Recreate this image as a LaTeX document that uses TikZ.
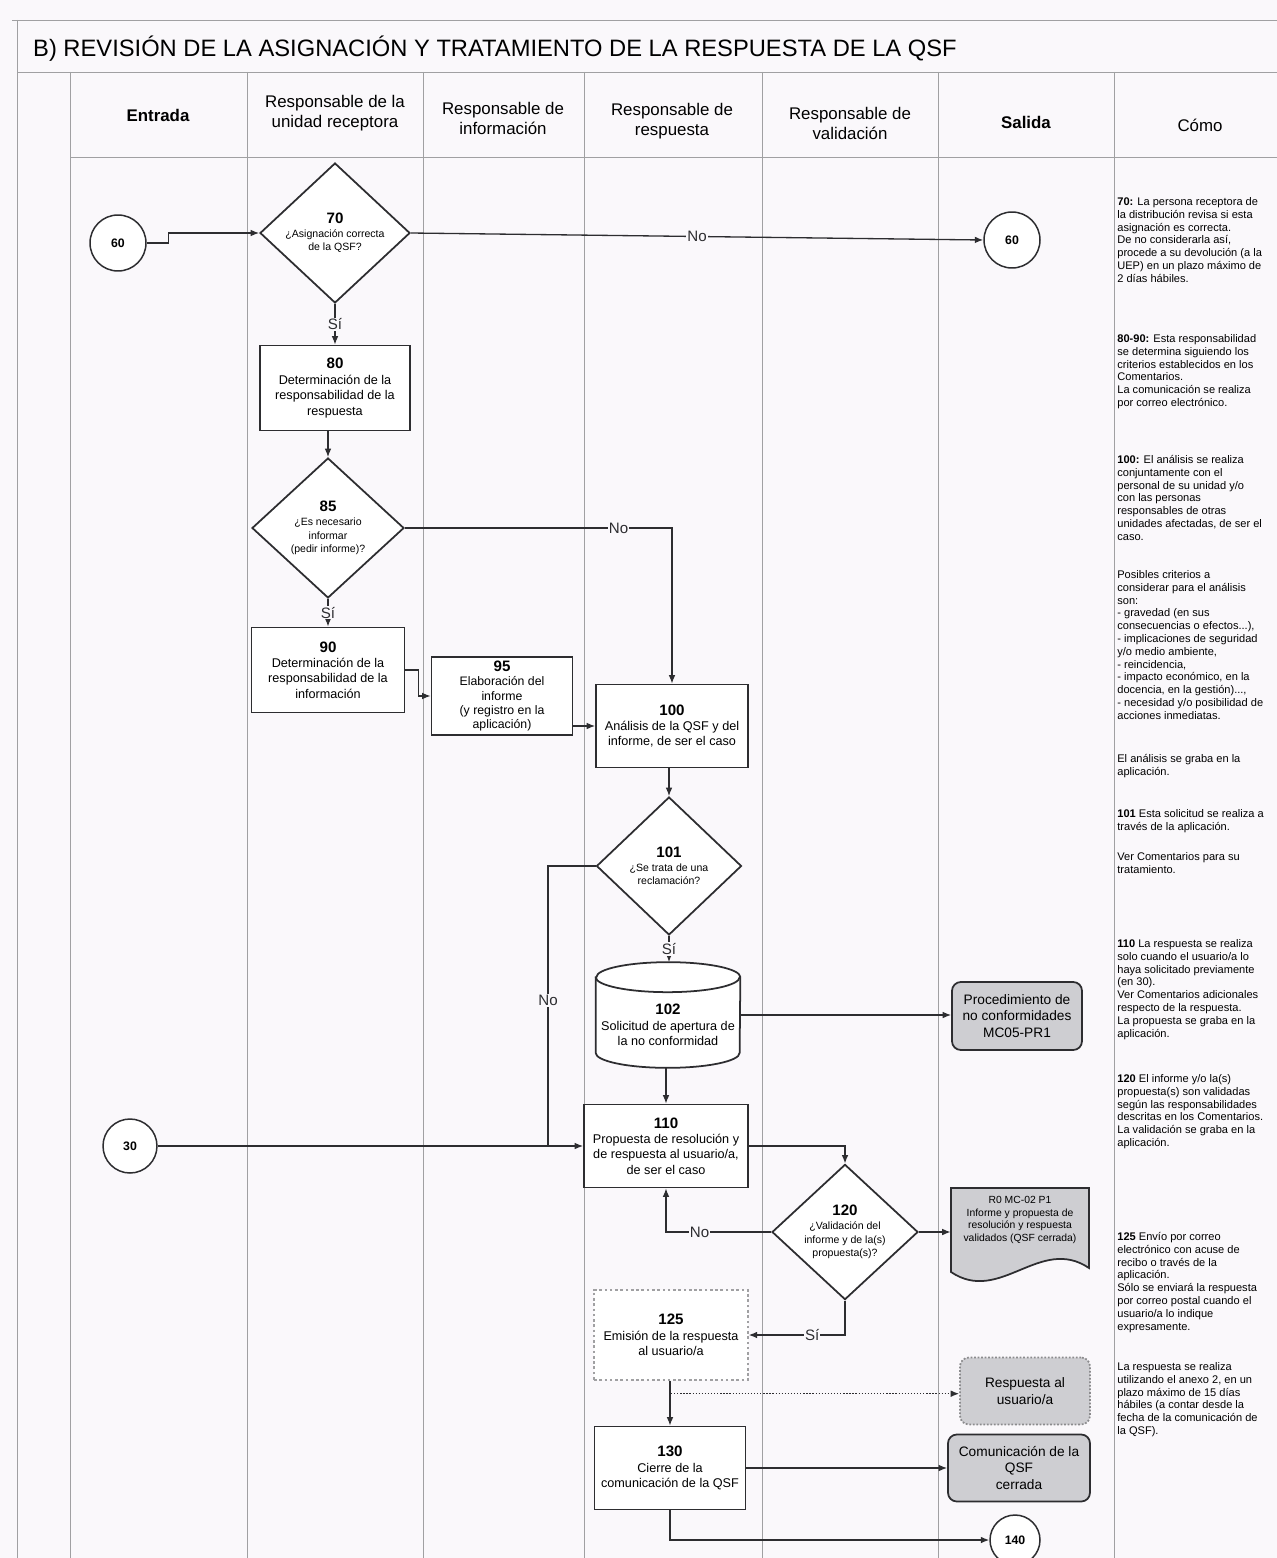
\documentclass[tikz,border=0pt]{standalone}
\usepackage{fontspec}
\setmainfont{Liberation Sans}
\usepackage{tikz}
\usetikzlibrary{calc}
\usetikzlibrary{shapes}
\usetikzlibrary{arrows.meta}

\definecolor{paper}{RGB}{250,248,251}
\definecolor{lanegray}{RGB}{160,160,162}
\definecolor{ink}{RGB}{45,45,48}
\definecolor{outgray}{RGB}{206,206,210}

\newcommand{\stepno}[1]{{\fontsize{8.6}{10}\selectfont\bfseries #1}}

\begin{document}
\begin{tikzpicture}[x=0.02cm, y=-0.02cm,
		>={Latex[length=4.8pt,width=3.8pt]},
		lanes/.style={lanegray, line width=0.55pt},
		link/.style={ink, line width=0.75pt},
		head/.style={align=center, font=\fontsize{9.6}{11.4}\selectfont},
		proc/.style={draw=ink, line width=1pt, fill=white, align=center, inner sep=1pt, font=\fontsize{7.2}{8.8}\selectfont},
		decis/.style={draw=ink, line width=1pt, fill=white, diamond, align=center, inner sep=0pt, font=\fontsize{6}{7.8}\selectfont},
		conn/.style={draw=ink, line width=0.85pt, fill=white, circle, inner sep=0pt, font=\fontsize{7}{8}\selectfont\bfseries},
		outbox/.style={draw=ink, line width=1pt, fill=outgray, rounded corners=5pt, align=center, inner sep=1pt, font=\fontsize{7.8}{9.4}\selectfont},
		yesno/.style={fill=paper, inner sep=0.6pt, font=\fontsize{8.6}{9}\selectfont},
		como/.style={anchor=north west, align=left, inner sep=0pt, font=\fontsize{6.3}{7.3}\selectfont}]
		\fill[paper] (0,0) rectangle (1277,1558);
		\useasboundingbox (0,0) rectangle (1277,1558);
%		\draw[very thin,densely dashed] (0,0) grid[step=100] (1277,1558);
		\draw[lanes] (12,20) -- (1277,20);
		\draw[lanes] (17,20) -- (17,1558);
		\draw[lanes] (17,72) -- (1277,72);
		\draw[lanes] (70,157) -- (1277,157);
		\draw[lanes] (70,72) -- (70,1558);
		\draw[lanes] (247,72) -- (247,1558);
		\draw[lanes] (423,72) -- (423,1558);
		\draw[lanes] (584,72) -- (584,1558);
		\draw[lanes] (762,72) -- (762,1558);
		\draw[lanes] (938,72) -- (938,1558);
		\draw[lanes] (1114,72) -- (1114,1558);
		\node [anchor=base west, font=\fontsize{13.5}{16}\selectfont] (title) at (27,57)
		{B) REVISIÓN DE LA ASIGNACIÓN Y TRATAMIENTO DE LA RESPUESTA DE LA QSF};
		\node [head, font=\fontsize{9.6}{11.4}\selectfont\bfseries] (hin) at (158,115) {Entrada};
		\node [head] (hrec) at (335,113) {Responsable de la\\unidad receptora};
		\node [head] (hinf) at (503,118) {Responsable de\\información};
		\node [head] (hres) at (672,121) {Responsable de\\respuesta};
		\node [head] (hval) at (850,123) {Responsable de\\validación};
		\node [head, font=\fontsize{9.6}{11.4}\selectfont\bfseries] (hout) at (1026,122) {Salida};
		\node [head] (hcomo) at (1200,125) {Cómo};

		\node [conn, minimum size=1.12cm] (c60in) at (118,243) {60};
		\node [decis, minimum width=3cm, minimum height=2.8cm] (d70) at (335,233)
		{\stepno{70}\\¿Asignación correcta\\de la QSF?};
		\node [conn, minimum size=1.12cm] (c60out) at (1012,240) {60};
		\node [proc, minimum width=3cm, minimum height=1.7cm] (p80) at (335,388)
		{\stepno{80}\\Determinación de la\\responsabilidad de la\\respuesta};
		\node [decis, minimum width=3.04cm, minimum height=2.8cm] (d85) at (328,528)
		{\stepno{85}\\¿Es necesario\\informar\\(pedir informe)?};
		\node [proc, minimum width=3.06cm, minimum height=1.7cm] (p90) at (328,670)
		{\stepno{90}\\Determinación de la\\responsabilidad de la\\información};
		\node [proc, minimum width=2.82cm, minimum height=1.56cm, font=\fontsize{7}{8}\selectfont] (p95) at (502,696)
		{\stepno{95}\\Elaboración del\\informe\\(y registro en la\\aplicación)};
		\node [proc, minimum width=3.04cm, minimum height=1.66cm] (p100) at (672,726)
		{\stepno{100}\\Análisis de la QSF y del\\informe, de ser el caso};
		\node [decis, minimum width=2.9cm, minimum height=2.76cm] (d101) at (669,866)
		{\stepno{101}\\¿Se trata de una\\reclamación?};

		\node [minimum width=2.88cm, minimum height=2.1cm, inner sep=0pt] (p102) at (668,1015) {};
		\draw [draw=ink, line width=1pt, fill=white] ($(p102.north west)+(0cm,-0.3cm)$)
		-- ($(p102.south west)+(0cm,0.3cm)$) arc [start angle=180, end angle=360, x radius=1.44cm, y radius=0.3cm]
		-- ($(p102.north east)+(0cm,-0.3cm)$) arc [start angle=0, end angle=180, x radius=1.44cm, y radius=0.3cm]
		-- cycle;
		\draw [ink, line width=1pt] ($(p102.north west)+(0cm,-0.3cm)$)
		arc [start angle=180, end angle=360, x radius=1.44cm, y radius=0.3cm];
		\node [align=center, inner sep=0pt, font=\fontsize{7.2}{8.8}\selectfont] (t102) at (668,1025)
		{\stepno{102}\\Solicitud de apertura de\\la no conformidad};
		\node [outbox, minimum width=2.6cm, minimum height=1.36cm] (oproc) at (1017,1016)
		{Procedimiento de\\no conformidades\\MC05-PR1};

		\node [conn, minimum size=1.08cm] (c30) at (130,1146) {30};
		\coordinate (j110) at (548,1146);
		\node [proc, minimum width=3.28cm, minimum height=1.66cm] (p110) at (666,1146)
		{\stepno{110}\\Propuesta de resolución y\\de respuesta al usuario/a,\\de ser el caso};
		\node [decis, minimum width=2.92cm, minimum height=2.66cm] (d120) at (845,1232)
		{\stepno{120}\\¿Validación del\\informe y de la(s)\\propuesta(s)?};
		\draw [ink, line width=1pt, fill=outgray] (951,1188) -- (1089,1188) -- (1089,1268)
		.. controls (1040,1235) and (1000,1305) .. (951,1272) -- cycle;
		\node [align=center, inner sep=0pt, minimum width=2.76cm, minimum height=1.3cm,
		font=\fontsize{5.9}{7.1}\selectfont] (r120) at (1020,1220)
		{R0 MC-02 P1\\Informe y propuesta de\\resolución y respuesta\\validados (QSF cerrada)};

		\node [proc, draw=lanegray, dash pattern=on 1.5pt off 1.5pt, line width=0.8pt,
		minimum width=3.08cm, minimum height=1.8cm] (p125) at (671,1335)
		{\stepno{125}\\Emisión de la respuesta\\al usuario/a};
		\coordinate (s125) at ($(p125.south)+(0cm,-0.26cm)$);
		\node [outbox, draw=ink!55, densely dotted, line width=1pt, minimum width=2.6cm, minimum height=1.34cm]
		(oresp) at (1025,1391) {Respuesta al\\usuario/a};
		\node [proc, minimum width=3.02cm, minimum height=1.66cm] (p130) at (670,1468)
		{\stepno{130}\\Cierre de la\\comunicación de la QSF};
		\node [outbox, minimum width=2.84cm, minimum height=1.34cm] (ocom) at (1019,1468)
		{Comunicación de la\\QSF\\cerrada};
		\node [conn, minimum size=1cm] (c140) at (1015,1540) {140};

		\draw [link,->] (c60in.east) -- ++(0.44cm,0cm) |- (d70.west);
		\draw [link,->] (d70.east) -- node [yesno] {No} (c60out.west);
		\draw [link,->] (d70.south) -- node [yesno] {Sí} (p80.north);
		\draw [link,->] (p80.south -| d85.north) -- (d85.north);
		\draw [link,->] (d85.east) -| node [yesno, pos=0.4] {No} (p100.north);
		\draw [link,->] (d85.south) -- node [yesno] {Sí} (p90.north);
		\draw [link,->] (p90.east) -- ++(0.26cm,0cm) |- (p95.west);
		\draw [link,->] (p95.east |- p100.west) -- (p100.west);
		\draw [link,->] (p100.south -| d101.north) -- (d101.north);
		\draw [link,->] (d101.south) -- node [yesno] {Sí} (d101.south |- p102.north);
		\draw [link,->] (p102.east) -- (p102.east -| oproc.west);
		\draw [link] (d101.west) -| node [yesno, pos=0.74] {No} (j110);
		\draw [link,->] (c30.east) -- (p110.west);
		\draw [link,->] (p102.south -| p110.north) -- (p110.north);
		\draw [link,->] (p110.east) -| (d120.north);
		\draw [link,->] (d120.east) -- (d120.east -| r120.west);
		\draw [link,->] (d120.west) -| node [yesno, pos=0.34] {No} (p110.south);
		\draw [link,->] (d120.south) |- node [yesno, pos=0.67] {Sí} (p125.east);
		\draw [link,->] (p125.south -| p130.north) -- (p130.north);
		\draw [link,->,densely dotted] (s125) -- (s125 -| oresp.west);
		\draw [link,->] (p130.east) -- (ocom.west);
		\draw [link,->] (p130.south) |- (c140.west);

		\node [como] (k70) at (1117,197) {\textbf{70:} La persona receptora de\\la distribución revisa si esta\\asignación es correcta.\\De no considerarla así,\\procede a su devolución (a la\\UEP) en un plazo máximo de\\2 días hábiles.};
		\node [como] (k80) at (1117,334) {\textbf{80-90:} Esta responsabilidad\\se determina siguiendo los\\criterios establecidos en los\\Comentarios.\\La comunicación se realiza\\por correo electrónico.};
		\node [como] (k100) at (1117,455) {\textbf{100:} El análisis se realiza\\conjuntamente con el\\personal de su unidad y/o\\con las personas\\responsables de otras\\unidades afectadas, de ser el\\caso.};
		\node [como] (kcrit) at (1117,570) {Posibles criterios a\\considerar para el análisis\\son:\\- gravedad (en sus\\consecuencias o efectos...),\\- implicaciones de seguridad\\y/o medio ambiente,\\- reincidencia,\\- impacto económico, en la\\docencia, en la gestión)...,\\- necesidad y/o posibilidad de\\acciones inmediatas.};
		\node [como] (kgraba) at (1117,754) {El análisis se graba en la\\aplicación.};
		\node [como] (k101) at (1117,809) {\textbf{101} Esta solicitud se realiza a\\través de la aplicación.};
		\node [como] (kver) at (1117,852) {Ver Comentarios para su\\tratamiento.};
		\node [como] (k110) at (1117,939) {\textbf{110} La respuesta se realiza\\solo cuando el usuario/a lo\\haya solicitado previamente\\(en 30).\\Ver Comentarios adicionales\\respecto de la respuesta.\\La propuesta se graba en la\\aplicación.};
		\node [como] (k120) at (1117,1074) {\textbf{120} El informe y/o la(s)\\propuesta(s) son validadas\\según las responsabilidades\\descritas en los Comentarios.\\La validación se graba en la\\aplicación.};
		\node [como] (k125) at (1117,1232) {\textbf{125} Envío por correo\\electrónico con acuse de\\recibo o través de la\\aplicación.\\Sólo se enviará la respuesta\\por correo postal cuando el\\usuario/a lo indique\\expresamente.};
		\node [como] (kplazo) at (1117,1362) {La respuesta se realiza\\utilizando el anexo 2, en un\\plazo máximo de 15 días\\hábiles (a contar desde la\\fecha de la comunicación de\\la QSF).};
	\end{tikzpicture}
\end{document}
